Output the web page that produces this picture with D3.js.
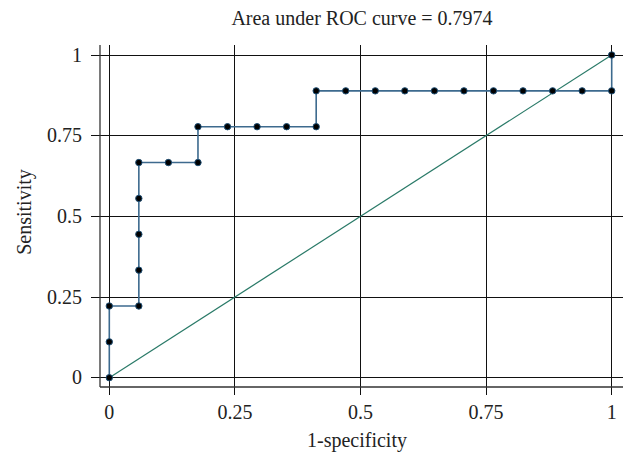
<!DOCTYPE html>
<html>
<head>
<meta charset="utf-8">
<script src="https://cdn.jsdelivr.net/npm/d3@7"></script>
<style>
  body { margin: 0; background: #fff; }
  svg text { font-family: "Liberation Serif", "DejaVu Serif", serif; fill: #222; }
</style>
</head>
<body>
<div id="chart"></div>
<script>
// ROC points (1-specificity, sensitivity)
const fpr = [0, 0, 0, 0.0588, 0.0588, 0.0588, 0.0588, 0.0588, 0.1176, 0.1765,
             0.1765, 0.2353, 0.2941, 0.3529, 0.4118, 0.4118, 0.4706, 0.5294, 0.5882,
             0.6471, 0.7059, 0.7647, 0.8235, 0.8824, 0.9412, 1, 1];
const tpr = [0, 0.1111, 0.2222, 0.2222, 0.3333, 0.4444, 0.5556, 0.6667, 0.6667, 0.6667,
             0.7778, 0.7778, 0.7778, 0.7778, 0.7778, 0.8889, 0.8889, 0.8889, 0.8889,
             0.8889, 0.8889, 0.8889, 0.8889, 0.8889, 0.8889, 0.8889, 1];
const ticks = [0, 0.25, 0.5, 0.75, 1];
const tickLabels = ["0", "0.25", "0.5", "0.75", "1"];
const title = "Area under ROC curve = 0.7974";

const width = 627, height = 455;
const plot = { left: 100, right: 623, top: 45, bottom: 387 };
const fontSize = 20;

const x = d3.scaleLinear().domain([0, 1]).range([109.3, 611.7]);
const y = d3.scaleLinear().domain([0, 1]).range([377.7, 55]);

const svg = d3.select("#chart").append("svg")
  .attr("width", width)
  .attr("height", height);

// grid lines (they also serve as the ticks)
svg.append("g")
  .selectAll("line")
  .data(ticks)
  .join("line")
  .attr("x1", d => x(d)).attr("x2", d => x(d))
  .attr("y1", plot.top).attr("y2", plot.bottom + 8)
  .attr("stroke", "#111").attr("stroke-width", 1)
  .attr("shape-rendering", "crispEdges");

svg.append("g")
  .selectAll("line")
  .data(ticks)
  .join("line")
  .attr("x1", plot.left - 9).attr("x2", plot.right)
  .attr("y1", d => y(d)).attr("y2", d => y(d))
  .attr("stroke", "#111").attr("stroke-width", 1)
  .attr("shape-rendering", "crispEdges");

// axis lines
svg.append("line")
  .attr("x1", plot.left).attr("x2", plot.left)
  .attr("y1", plot.top).attr("y2", plot.bottom)
  .attr("stroke", "#333").attr("stroke-width", 1.3);
svg.append("line")
  .attr("x1", plot.left).attr("x2", plot.right)
  .attr("y1", plot.bottom).attr("y2", plot.bottom)
  .attr("stroke", "#333").attr("stroke-width", 1.3);

// tick labels
svg.append("g")
  .selectAll("text")
  .data(ticks)
  .join("text")
  .attr("x", plot.left - 18)
  .attr("y", d => y(d) + 6.5)
  .attr("text-anchor", "end")
  .attr("font-size", fontSize)
  .text((d, i) => tickLabels[i]);

svg.append("g")
  .selectAll("text")
  .data(ticks)
  .join("text")
  .attr("x", d => x(d))
  .attr("y", 419)
  .attr("text-anchor", "middle")
  .attr("font-size", fontSize)
  .text((d, i) => tickLabels[i]);

// titles
svg.append("text")
  .attr("x", 362).attr("y", 25)
  .attr("text-anchor", "middle")
  .attr("font-size", fontSize)
  .text(title);

svg.append("text")
  .attr("x", 357).attr("y", 447)
  .attr("text-anchor", "middle")
  .attr("font-size", fontSize)
  .text("1-specificity");

svg.append("text")
  .attr("transform", "translate(31,212) rotate(-90)")
  .attr("text-anchor", "middle")
  .attr("font-size", fontSize)
  .text("Sensitivity");

// reference diagonal
svg.append("line")
  .attr("x1", x(0)).attr("y1", y(0))
  .attr("x2", x(1)).attr("y2", y(1))
  .attr("stroke", "#2a7a68").attr("stroke-width", 1.2);

// ROC curve
const pts = fpr.map((f, i) => [f, tpr[i]]);
svg.append("path")
  .datum(pts)
  .attr("fill", "none")
  .attr("stroke", "#3d6a8e")
  .attr("stroke-width", 1.6)
  .attr("d", d3.line().x(d => x(d[0])).y(d => y(d[1])));

svg.append("g")
  .selectAll("circle")
  .data(pts)
  .join("circle")
  .attr("cx", d => x(d[0]))
  .attr("cy", d => y(d[1]))
  .attr("r", 3.2)
  .attr("fill", "#000")
  .attr("stroke", "#1f4f75")
  .attr("stroke-width", 1);
</script>
</body>
</html>
